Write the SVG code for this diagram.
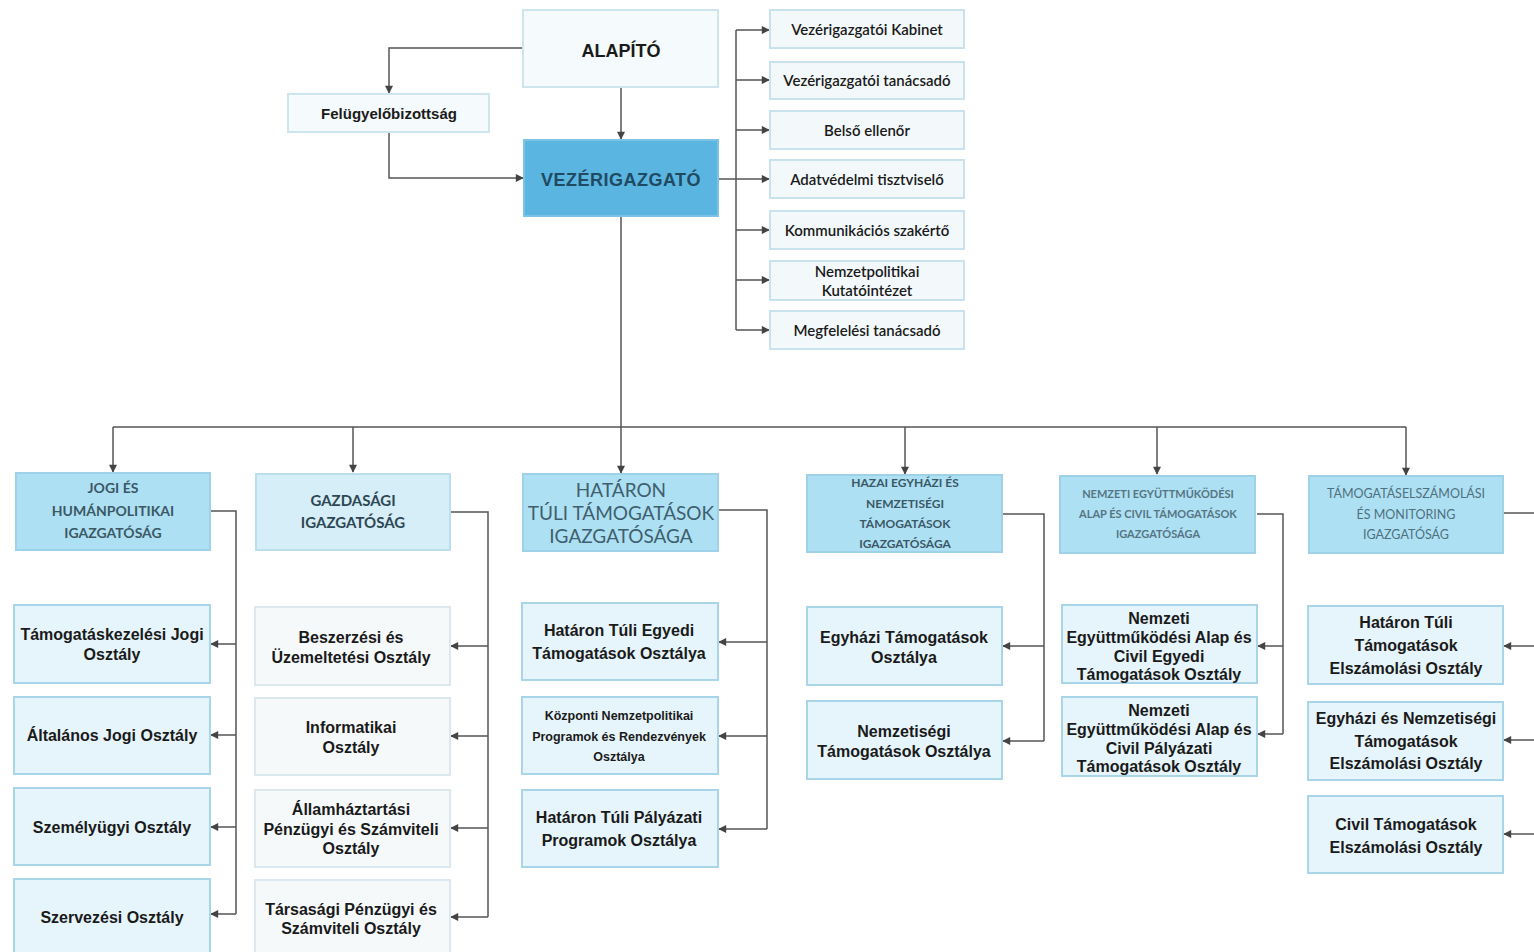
<svg xmlns="http://www.w3.org/2000/svg" width="1534" height="952" viewBox="0 0 1534 952">
<style>
text{font-family:Lato,"Liberation Sans",sans-serif;text-anchor:middle;fill:#1a1a1a}
.top{fill:#f5fafc;stroke:#cfe5ee;stroke-width:2}
.side{fill:#f3f9fb;stroke:#c8e3ee;stroke-width:2}
.hdr{fill:#aee0f3;stroke:#9fd2e8;stroke-width:2}
.hdr2{fill:#d6eef7;stroke:#b9dfee;stroke-width:2}
.ch{fill:#e6f5fb;stroke:#a9d5e8;stroke-width:2}
.chw{fill:#f5f9fa;stroke:#dbe9ee;stroke-width:2}
.t16{font-family:"Liberation Sans",Arial,sans-serif;font-size:16px;font-weight:700}
.t15{font-family:"Liberation Sans",Arial,sans-serif;font-size:15px;font-weight:700}
.t14{font-size:15px;font-weight:600}
.h{font-weight:700;fill:#3b5866}
.ln{fill:none;stroke:#555;stroke-width:1.5}
</style>
<defs>
<marker id="a" viewBox="0 0 10 10" refX="9" refY="5" markerWidth="9" markerHeight="8" orient="auto" markerUnits="userSpaceOnUse"><path d="M0,0L10,5L0,10z" fill="#444"/></marker>
</defs>
<rect width="1534" height="952" fill="#ffffff"/>
<g id="connectors" class="ln">
<path d="M523,48H389V93" marker-end="url(#a)"/>
<path d="M389,132V178H523" marker-end="url(#a)"/>
<path d="M621,87V139" marker-end="url(#a)"/>
<path d="M718,179H736"/>
<path d="M736,30V330"/>
<path d="M736,30H769" marker-end="url(#a)"/>
<path d="M736,80H769" marker-end="url(#a)"/>
<path d="M736,130H769" marker-end="url(#a)"/>
<path d="M736,179H769" marker-end="url(#a)"/>
<path d="M736,230H769" marker-end="url(#a)"/>
<path d="M736,280H769" marker-end="url(#a)"/>
<path d="M736,330H769" marker-end="url(#a)"/>
<path d="M621,216V427"/>
<path d="M113,427H1406"/>
<path d="M113,427V472" marker-end="url(#a)"/>
<path d="M353,427V472" marker-end="url(#a)"/>
<path d="M621,427V473" marker-end="url(#a)"/>
<path d="M905,427V474" marker-end="url(#a)"/>
<path d="M1157,427V474" marker-end="url(#a)"/>
<path d="M1406,427V475" marker-end="url(#a)"/>
<path d="M210,511H236V914"/>
<path d="M236,644H211" marker-end="url(#a)"/>
<path d="M236,735H211" marker-end="url(#a)"/>
<path d="M236,827H211" marker-end="url(#a)"/>
<path d="M236,914H211" marker-end="url(#a)"/>
<path d="M450,512H488V917"/>
<path d="M488,646H451" marker-end="url(#a)"/>
<path d="M488,736H451" marker-end="url(#a)"/>
<path d="M488,828H451" marker-end="url(#a)"/>
<path d="M488,917H451" marker-end="url(#a)"/>
<path d="M718,510H767V829"/>
<path d="M767,642H719" marker-end="url(#a)"/>
<path d="M767,736H719" marker-end="url(#a)"/>
<path d="M767,829H719" marker-end="url(#a)"/>
<path d="M1002,514H1044V741"/>
<path d="M1044,646H1003" marker-end="url(#a)"/>
<path d="M1044,741H1003" marker-end="url(#a)"/>
<path d="M1257,514H1283V734"/>
<path d="M1283,646H1258" marker-end="url(#a)"/>
<path d="M1283,734H1258" marker-end="url(#a)"/>
<path d="M1503,513H1534"/>
<path d="M1534,646H1504" marker-end="url(#a)"/>
<path d="M1534,740H1504" marker-end="url(#a)"/>
<path d="M1534,834H1504" marker-end="url(#a)"/>
</g>
<g id="alapito"><rect class="top" x="523" y="10" width="195" height="77"/><text x="621" y="57" style="font-family:'Liberation Sans',sans-serif;font-size:18px;font-weight:700">ALAPÍTÓ</text></g>
<g id="felugyelo"><rect class="top" x="288" y="94" width="201" height="38"/><text x="389" y="119" class="t15">Felügyelőbizottság</text></g>
<g id="vezerigazgato"><rect x="524" y="140" width="194" height="76" fill="#5ab5e0" stroke="#7cc3e6" stroke-width="2"/><text x="621" y="186" style="font-family:'Liberation Sans',sans-serif;font-size:18px;font-weight:700;fill:#1f4a62;letter-spacing:0.5px">VEZÉRIGAZGATÓ</text></g>
<g id="kabinet"><rect class="side" x="770" y="10" width="194" height="38"/><text x="867" y="35" class="t14">Vezérigazgatói Kabinet</text></g>
<g id="tanacsado"><rect class="side" x="770" y="62" width="194" height="37"/><text x="867" y="86" class="t14">Vezérigazgatói tanácsadó</text></g>
<g id="ellenor"><rect class="side" x="770" y="111" width="194" height="38"/><text x="867" y="136" class="t14">Belső ellenőr</text></g>
<g id="adatvedelmi"><rect class="side" x="770" y="160" width="194" height="38"/><text x="867" y="185" class="t14">Adatvédelmi tisztviselő</text></g>
<g id="kommunikacios"><rect class="side" x="770" y="211" width="194" height="38"/><text x="867" y="236" class="t14">Kommunikációs szakértő</text></g>
<g id="kutato"><rect class="side" x="770" y="261" width="194" height="39"/><text x="867" y="277" class="t14">Nemzetpolitikai</text><text x="867" y="296" class="t14">Kutatóintézet</text></g>
<g id="megfelelesi"><rect class="side" x="770" y="311" width="194" height="38"/><text x="867" y="336" class="t14">Megfelelési tanácsadó</text></g>
<g id="jogi"><rect class="hdr" x="16" y="473" width="194" height="77" fill="#90d2ee"/><text class="h" style="font-size:14px" x="113" y="493">JOGI ÉS</text><text class="h" style="font-size:14px" x="113" y="516">HUMÁNPOLITIKAI</text><text class="h" style="font-size:14px" x="113" y="538">IGAZGATÓSÁG</text></g>
<g id="gazdasagi"><rect class="hdr2" x="256" y="474" width="194" height="76"/><text class="h" style="font-size:15px;fill:#2e4754" x="353" y="506">GAZDASÁGI</text><text class="h" style="font-size:15px;fill:#2e4754" x="353" y="528">IGAZGATÓSÁG</text></g>
<g id="hataron"><rect class="hdr" x="523" y="474" width="195" height="77" fill="#b5e3f3"/><text style="font-size:19px;fill:#3e5f6e" x="621" y="497">HATÁRON</text><text style="font-size:19px;fill:#3e5f6e" x="621" y="520">TÚLI TÁMOGATÁSOK</text><text style="font-size:19px;fill:#3e5f6e" x="621" y="543">IGAZGATÓSÁGA</text></g>
<g id="hazai"><rect class="hdr" x="807" y="475" width="195" height="77" fill="#a9dcf0"/><text class="h" style="font-size:12px" x="905" y="487">HAZAI EGYHÁZI ÉS</text><text class="h" style="font-size:12px" x="905" y="508">NEMZETISÉGI</text><text class="h" style="font-size:12px" x="905" y="528">TÁMOGATÁSOK</text><text class="h" style="font-size:12px" x="905" y="548">IGAZGATÓSÁGA</text></g>
<g id="nemzeti"><rect class="hdr" x="1060" y="476" width="195" height="77" fill="#a3d9ef"/><text class="h" style="font-size:11px;fill:#557583" x="1158" y="498">NEMZETI EGYÜTTMŰKÖDÉSI</text><text class="h" style="font-size:11px;fill:#557583" x="1158" y="518">ALAP ÉS CIVIL TÁMOGATÁSOK</text><text class="h" style="font-size:11px;fill:#557583" x="1158" y="538">IGAZGATÓSÁGA</text></g>
<g id="tamogataselszamolasi"><rect class="hdr" x="1309" y="476" width="194" height="77" fill="#a8dbf0"/><text style="font-size:12.5px;fill:#4f707e" x="1406" y="498">TÁMOGATÁSELSZÁMOLÁSI</text><text style="font-size:12.5px;fill:#4f707e" x="1406" y="519">ÉS MONITORING</text><text style="font-size:12.5px;fill:#4f707e" x="1406" y="539">IGAZGATÓSÁG</text></g>
<g id="c1a"><rect class="ch" x="14" y="605" width="196" height="78"/><text class="t16" x="112" y="640">Támogatáskezelési Jogi</text><text class="t16" x="112" y="660">Osztály</text></g>
<g id="c1b"><rect class="ch" x="14" y="697" width="196" height="77"/><text class="t16" x="112" y="741">Általános Jogi Osztály</text></g>
<g id="c1c"><rect class="ch" x="14" y="788" width="196" height="77"/><text class="t16" x="112" y="833">Személyügyi Osztály</text></g>
<g id="c1d"><rect class="ch" x="14" y="879" width="196" height="80"/><text class="t16" x="112" y="923">Szervezési Osztály</text></g>
<g id="c2a"><rect class="chw" x="255" y="607" width="195" height="78"/><text class="t16" x="351" y="643">Beszerzési és</text><text class="t16" x="351" y="663">Üzemeltetési Osztály</text></g>
<g id="c2b"><rect class="chw" x="255" y="698" width="195" height="77"/><text class="t16" x="351" y="733">Informatikai</text><text class="t16" x="351" y="753">Osztály</text></g>
<g id="c2c"><rect class="chw" x="255" y="790" width="195" height="77"/><text class="t16" x="351" y="815">Államháztartási</text><text class="t16" x="351" y="835">Pénzügyi és Számviteli</text><text class="t16" x="351" y="854">Osztály</text></g>
<g id="c2d"><rect class="chw" x="255" y="880" width="195" height="80"/><text class="t16" x="351" y="915">Társasági Pénzügyi és</text><text class="t16" x="351" y="934">Számviteli Osztály</text></g>
<g id="c3a"><rect class="ch" x="522" y="603" width="196" height="77"/><text class="t16" x="619" y="636">Határon Túli Egyedi</text><text class="t16" x="619" y="659">Támogatások Osztálya</text></g>
<g id="c3b"><rect class="ch" x="522" y="697" width="196" height="77"/><text class="t16" style="font-size:12.5px" x="619" y="720">Központi Nemzetpolitikai</text><text class="t16" style="font-size:12.5px" x="619" y="741">Programok és Rendezvények</text><text class="t16" style="font-size:12.5px" x="619" y="761">Osztálya</text></g>
<g id="c3c"><rect class="ch" x="522" y="790" width="196" height="77"/><text class="t16" x="619" y="823">Határon Túli Pályázati</text><text class="t16" x="619" y="846">Programok Osztálya</text></g>
<g id="c4a"><rect class="ch" x="807" y="607" width="195" height="78"/><text class="t16" x="904" y="643">Egyházi Támogatások</text><text class="t16" x="904" y="663">Osztálya</text></g>
<g id="c4b"><rect class="ch" x="807" y="701" width="195" height="78"/><text class="t16" x="904" y="737">Nemzetiségi</text><text class="t16" x="904" y="757">Támogatások Osztálya</text></g>
<g id="c5a"><rect class="ch" x="1062" y="605" width="195" height="78"/><text class="t16" x="1159" y="624">Nemzeti</text><text class="t16" x="1159" y="643">Együttműködési Alap és</text><text class="t16" x="1159" y="662">Civil Egyedi</text><text class="t16" x="1159" y="680">Támogatások Osztály</text></g>
<g id="c5b"><rect class="ch" x="1062" y="697" width="195" height="79"/><text class="t16" x="1159" y="716">Nemzeti</text><text class="t16" x="1159" y="735">Együttműködési Alap és</text><text class="t16" x="1159" y="754">Civil Pályázati</text><text class="t16" x="1159" y="772">Támogatások Osztály</text></g>
<g id="c6a"><rect class="ch" x="1308" y="606" width="195" height="78"/><text class="t16" x="1406" y="628">Határon Túli</text><text class="t16" x="1406" y="651">Támogatások</text><text class="t16" x="1406" y="674">Elszámolási Osztály</text></g>
<g id="c6b"><rect class="ch" x="1308" y="702" width="195" height="78"/><text class="t16" x="1406" y="724">Egyházi és Nemzetiségi</text><text class="t16" x="1406" y="747">Támogatások</text><text class="t16" x="1406" y="769">Elszámolási Osztály</text></g>
<g id="c6c"><rect class="ch" x="1308" y="796" width="195" height="77"/><text class="t16" x="1406" y="830">Civil Támogatások</text><text class="t16" x="1406" y="853">Elszámolási Osztály</text></g>
</svg>
